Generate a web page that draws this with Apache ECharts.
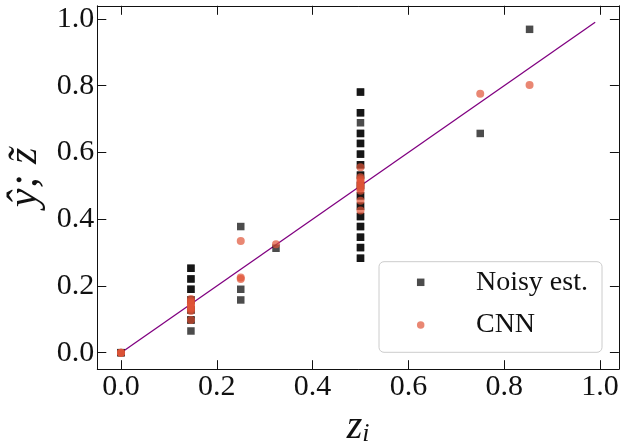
<!DOCTYPE html>
<html><head><meta charset="utf-8">
<script src="https://cdn.jsdelivr.net/npm/echarts@6/dist/echarts.min.js"></script>
<style>html,body{margin:0;padding:0;background:#fff}#c{width:636px;height:443px}</style>
</head><body><div id="c"></div>
<script>
// ---- data ----
const xTicks = [0, 0.2, 0.4, 0.6, 0.8, 1.0];
const yTicks = [0, 0.2, 0.4, 0.6, 0.8, 1.0];
const seriesNames = ['Noisy est.', 'CNN'];

const noisyX = [0, 0,
  0.146, 0.146, 0.146, 0.146, 0.146, 0.146, 0.146, 0.146, 0.146, 0.146, 0.146, 0.146, 0.146,
  0.25, 0.25, 0.25,
  0.3236,
  0.5, 0.5, 0.5, 0.5, 0.5, 0.5, 0.5, 0.5, 0.5, 0.5, 0.5, 0.5, 0.5, 0.5, 0.5, 0.5,
  0.5, 0.5, 0.5, 0.5, 0.5, 0.5, 0.5, 0.5, 0.5, 0.5, 0.5, 0.5, 0.5, 0.5, 0.5,
  0.75, 0.853];
const noisyY = [0, 0,
  0.253, 0.253, 0.221, 0.221, 0.19, 0.19, 0.158, 0.158, 0.128, 0.128, 0.098, 0.098, 0.065,
  0.378, 0.19, 0.158,
  0.313,
  0.781, 0.781, 0.719, 0.719, 0.689, 0.657, 0.657, 0.627, 0.627, 0.595, 0.595, 0.563, 0.563, 0.532, 0.532, 0.501,
  0.501, 0.47, 0.47, 0.439, 0.439, 0.408, 0.408, 0.378, 0.378, 0.346, 0.346, 0.315, 0.315, 0.283, 0.283,
  0.657, 0.969];

const cnnX = [0, 0, 0,
  0.146, 0.146, 0.146, 0.146, 0.146, 0.146, 0.146, 0.146, 0.146,
  0.25, 0.25, 0.25,
  0.3236,
  0.5, 0.5, 0.5, 0.5, 0.5, 0.5, 0.5, 0.5, 0.5, 0.5, 0.5,
  0.75, 0.853];
const cnnY = [0, 0, 0,
  0.161, 0.155, 0.15, 0.145, 0.14, 0.135, 0.13, 0.125, 0.098,
  0.335, 0.225, 0.221,
  0.325,
  0.556, 0.526, 0.52, 0.514, 0.508, 0.502, 0.497, 0.491, 0.485, 0.455, 0.426,
  0.776, 0.802];

const idealX = [0, 0.99];
const idealY = [0, 0.99];

// ---- chart ----
const FONT = 'Liberation Serif';
const ink = '#111';
const zip = (xs, ys) => xs.map((x, i) => [x, ys[i]]);
const fmt = v => v.toFixed(1);

function makeAxis(position, ticks, withLabels, extra) {
  return Object.assign({
    type: 'value',
    position: position,
    min: -0.0495,
    max: 1.0395,
    axisLine: { show: true, onZero: false, lineStyle: { color: ink, width: 1 } },
    axisTick: { show: true, inside: true, length: 9, customValues: ticks, lineStyle: { color: ink, width: 1 } },
    axisLabel: withLabels ? { show: true, customValues: ticks, formatter: fmt, fontFamily: FONT, fontSize: 30, color: ink, margin: 3 } : { show: false },
    splitLine: { show: false }
  }, extra || {});
}

const chart = echarts.init(document.getElementById('c'), null, { renderer: 'canvas' });
chart.setOption({
  animation: false,
  backgroundColor: '#fff',
  grid: { left: 97.3, right: 17.1, top: 5.8, bottom: 73.8, containLabel: false, outerBoundsMode: 'none' },
  xAxis: [
    makeAxis('bottom', xTicks, true, {
      name: '{z|z}{i|i}', nameLocation: 'middle', nameGap: 28,
      nameTextStyle: { rich: {
        z: { fontFamily: FONT, fontStyle: 'italic', fontSize: 40, lineHeight: 40, color: ink },
        i: { fontFamily: FONT, fontStyle: 'italic', fontSize: 26, lineHeight: 18, verticalAlign: 'bottom', color: ink }
      } }
    }),
    makeAxis('top', xTicks, false)
  ],
  yAxis: [
    makeAxis('left', yTicks, true, {
      name: 'ŷ; z\u0303', nameLocation: 'middle', nameGap: 50,
      nameTextStyle: { fontFamily: FONT, fontStyle: 'italic', fontSize: 42, color: ink, padding: [0, 0, 0, 20] }
    }),
    makeAxis('right', yTicks, false)
  ],
  legend: {
    data: [
      { name: seriesNames[0], icon: 'rect' },
      { name: seriesNames[1], icon: 'circle' }
    ],
    orient: 'vertical',
    left: 416.95, top: 268.3,
    itemWidth: 7.5, itemHeight: 7.5, itemGap: 14.7,
    padding: 0,
    formatter: name => '{t|' + name + '}',
    textStyle: { fontFamily: FONT, fontSize: 28, color: ink,
      rich: { t: { fontFamily: FONT, fontSize: 28, color: ink, padding: [0, 0, 0, 46.5] } } },
    selectedMode: false,
    z: 20
  },
  graphic: [{
    type: 'rect', z: 4,
    shape: { x: 379, y: 261.7, width: 223, height: 90.6, r: 5 },
    style: { fill: 'rgba(255,255,255,0.8)', stroke: '#cccccc', lineWidth: 1 }
  }],
  series: [
    {
      type: 'line', data: zip(idealX, idealY), showSymbol: false, silent: true,
      lineStyle: { color: '#800080', width: 1.3 }, z: 1
    },
    {
      name: seriesNames[0], type: 'scatter', data: zip(noisyX, noisyY),
      symbol: 'rect', symbolSize: 7.5, itemStyle: { color: 'rgba(0,0,0,0.7)', opacity: 1 }, z: 2
    },
    {
      name: seriesNames[1], type: 'scatter', data: zip(cnnX, cnnY),
      symbol: 'circle', symbolSize: 8, itemStyle: { color: 'rgba(224,84,55,0.7)', opacity: 1 }, z: 3
    }
  ]
});
</script>
</body></html>
